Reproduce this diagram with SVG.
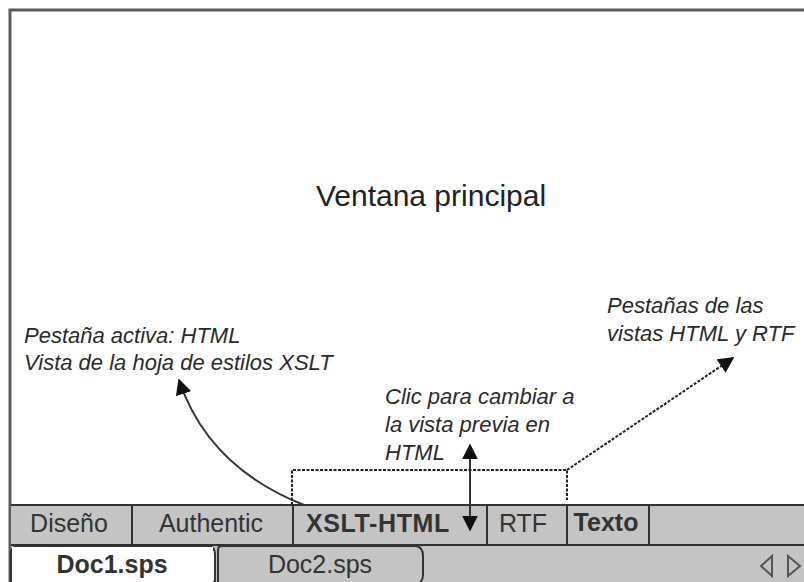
<svg xmlns="http://www.w3.org/2000/svg" width="804" height="582" viewBox="0 0 804 582">
<defs>
<style>
.txt{font-family:"Liberation Sans",Arial,sans-serif;fill:#222}
.note{font-family:"Liberation Sans",Arial,sans-serif;font-style:italic;font-size:22px;fill:#2a2a2a}
.tab{font-family:"Liberation Sans",Arial,sans-serif;font-size:25px;fill:#333}
.div{stroke:#333;stroke-width:2}
.dot{fill:none;stroke:#222;stroke-width:2;stroke-dasharray:3 1.5}
.conn{fill:none;stroke:#333;stroke-width:2}
</style>
<marker id="ahb" viewBox="0 0 10 10" refX="9" refY="5" markerWidth="16" markerHeight="16" markerUnits="userSpaceOnUse" orient="auto-start-reverse">
<path d="M0,0 L10,5 L0,10 z" fill="#111"/>
</marker>
</defs>
<rect x="0" y="0" width="804" height="582" fill="#ffffff"/>
<g id="window">
<path d="M10,582 V10 H804" fill="none" stroke="#5a5a5a" stroke-width="3"/>
<text class="txt" x="431" y="206" font-size="30" text-anchor="middle">Ventana principal</text>
</g>
<g id="viewtabs">
<rect x="11" y="505" width="793" height="40" fill="#c4c4c4"/>
<line class="div" x1="11" y1="505" x2="804" y2="505"/>
<line class="div" x1="11" y1="545" x2="804" y2="545"/>
<line class="div" x1="132" y1="505" x2="132" y2="545"/>
<line class="div" x1="293" y1="505" x2="293" y2="545"/>
<line class="div" x1="487" y1="505" x2="487" y2="545"/>
<line class="div" x1="567" y1="505" x2="567" y2="545"/>
<line class="div" x1="649" y1="505" x2="649" y2="545"/>
<text class="tab" x="69" y="532" text-anchor="middle">Diseño</text>
<text class="tab" x="211" y="532" text-anchor="middle">Authentic</text>
<text class="tab" x="306" y="532" font-weight="bold" fill="#222" letter-spacing="0.6">XSLT-HTML</text>
<text class="tab" x="523" y="532" text-anchor="middle">RTF</text>
<text class="tab" x="606" y="531" text-anchor="middle" font-weight="bold" font-size="20" fill="#222">Texto</text>
</g>
<g id="doctabs">
<rect x="11" y="546" width="793" height="36" fill="#c4c4c4"/>
<path d="M218,582 V550 Q218,546 222,546 H416 Q423,547 423,556 V575 Q423,580 420,582" fill="#c4c4c4" stroke="#333" stroke-width="2"/>
<path d="M11,582 V554 Q11,546 19,546 H207 Q215,546 215,554 V582 Z" fill="#ffffff" stroke="#333" stroke-width="2"/>
<rect x="12" y="547" width="201" height="35" fill="#ffffff"/>
<text class="tab" x="112" y="573" text-anchor="middle" font-weight="bold" fill="#222">Doc1.sps</text>
<text class="tab" x="320" y="573" text-anchor="middle" font-size="26">Doc2.sps</text>
<path d="M772,556 L761,566 L772,576 Z" fill="none" stroke="#555" stroke-width="2"/>
<path d="M788,556 L800,566 L788,576 Z" fill="none" stroke="#555" stroke-width="2"/>
</g>
<g id="note-active">
<text class="note" x="24" y="343">Pestaña activa: HTML</text>
<text class="note" x="24" y="370">Vista de la hoja de estilos XSLT</text>
</g>
<g id="note-click">
<text class="note" x="385" y="404">Clic para cambiar a</text>
<text class="note" x="385" y="432">la vista previa en</text>
<text class="note" x="385" y="460">HTML</text>
</g>
<g id="note-tabs">
<text class="note" x="607" y="313">Pestañas de las</text>
<text class="note" x="607" y="341">vistas HTML y RTF</text>
</g>
<g id="connectors">
<path class="conn" d="M304,505 Q208,467 179,380" marker-end="url(#ahb)"/>
<line class="conn" x1="470" y1="530" x2="470" y2="445" marker-start="url(#ahb)" marker-end="url(#ahb)"/>
<path class="dot" d="M292,505 V470 H567 V500"/>
<path class="dot" d="M567,470 L733,358" marker-end="url(#ahb)"/>
</g>
</svg>
